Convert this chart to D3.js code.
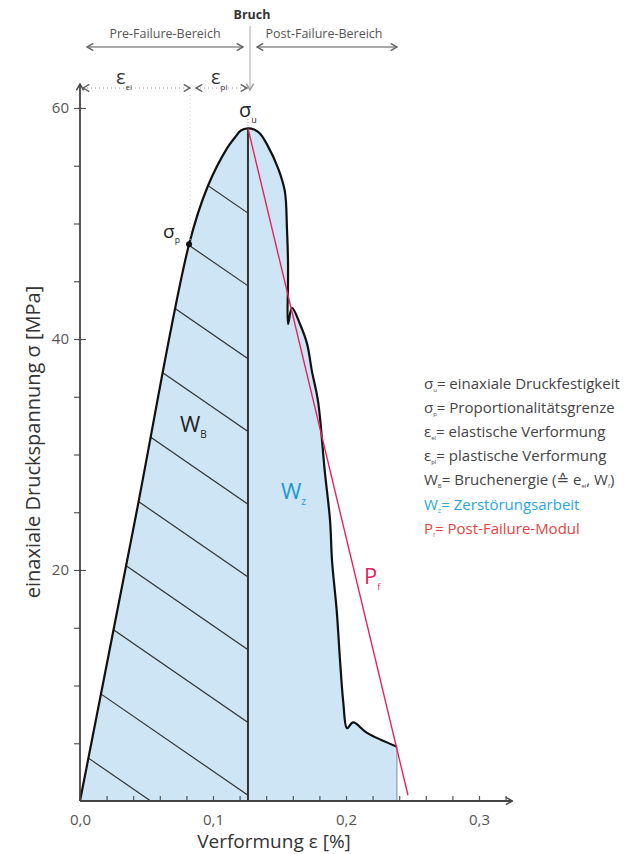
<!DOCTYPE html>
<html>
<head>
<meta charset="utf-8">
<script src="https://cdn.jsdelivr.net/npm/d3@7"></script>
<style>
    body { margin: 0; background: #fff; }
    svg text { font-family: "Open Sans", "DejaVu Sans", sans-serif; }
</style>
</head>
<body>
<div id="chart"></div>
<script>

// stress-strain curve (strain in %, stress in MPa)
let curveStrain = [0, 0.041, 0.082, 0.096, 0.1105, 0.1165, 0.121, 0.1263, 0.1308, 0.1353, 0.1406, 0.1489,
    0.154, 0.1556, 0.1564, 0.1564, 0.1564, 0.1594, 0.1654, 0.1707, 0.1744, 0.179, 0.184, 0.188, 0.1895,
    0.193, 0.1955, 0.198, 0.2008, 0.2053, 0.2158, 0.2383];
let curveStress = [0, 24.1, 48.2, 53.2, 56.5, 57.45, 58.05, 58.23, 58.14, 57.8, 56.85, 54.8,
    52.8, 49.6, 46.7, 44.8, 41.3, 42.7, 41.3, 39.6, 37.2, 34.6, 28.6, 24.3, 20.8,
    16.5, 12.2, 8.5, 6.3, 6.8, 5.9, 4.7];

let peakStrain = 0.1263;
let peakStress = 58.23;
let propStrain = 0.082;
let propStress = 48.2;

// post-failure modulus line
let pfStrain = [0.1263, 0.2466];
let pfStress = [58.23, 0.5];

// hatch lines in W_B: stress where each line meets the break line, and slope (MPa per %)
let hatchStress = [50.9, 44.6, 38.3, 32.0, 25.7, 19.4, 13.1, 6.8, 0.5, -5.8];
let hatchSlope = -79.3;

let xTicks = [0, 0.02, 0.04, 0.06, 0.08, 0.1, 0.12, 0.14, 0.16, 0.18, 0.2, 0.22, 0.24, 0.26, 0.28, 0.3, 0.32];
let xLabels = [0, 0.1, 0.2, 0.3];
let yTicks = [5, 10, 15, 20, 25, 30, 35, 40, 45, 50, 55, 60];
let yLabels = [20, 40, 60];

let legendSymbols = ["σ", "σ", "ε", "ε", "W", "W", "P"];
let legendSubs = ["u", "p", "el", "pl", "B", "Z", "f"];
let legendTexts = ["= einaxiale Druckfestigkeit", "= Proportionalitätsgrenze", "= elastische Verformung",
    "= plastische Verformung", "= Bruchenergie (≙ e", "= Zerstörungsarbeit", "= Post-Failure-Modul"];
let legendColors = ["#444", "#444", "#444", "#444", "#444", "#2aa6dc", "#e5443e"];

let width = 636, height = 854;

let svg = d3.select("#chart").append("svg")
    .attr("width", width)
    .attr("height", height);

let defs = svg.append("defs");

// open chevron arrow head
function addMarker(id, color) {
    defs.append("marker")
        .attr("id", id)
        .attr("viewBox", "0 0 10 10")
        .attr("refX", 9)
        .attr("refY", 5)
        .attr("markerWidth", 9)
        .attr("markerHeight", 9)
        .attr("markerUnits", "userSpaceOnUse")
        .attr("orient", "auto-start-reverse")
        .append("path")
        .attr("d", "M2,1 L9,5 L2,9")
        .attr("fill", "none")
        .attr("stroke", color)
        .attr("stroke-width", 1.6);
}
addMarker("arrow-dark", "#444");
addMarker("arrow-grey", "#666");
addMarker("arrow-light", "#999");

// scales
let x = d3.scaleLinear().domain([0, 0.1]).range([80, 213]);
let y = d3.scaleLinear().domain([0, 60]).range([801, 108]);

let pts = curveStrain.map((d, i) => [d, curveStress[i]]);

let line = d3.line()
    .x(d => x(d[0]))
    .y(d => y(d[1]))
    .curve(d3.curveCatmullRom.alpha(0.5));

let area = d3.area()
    .x(d => x(d[0]))
    .y0(y(0))
    .y1(d => y(d[1]))
    .curve(d3.curveCatmullRom.alpha(0.5));

// filled area under the whole curve
svg.append("path")
    .datum(pts)
    .attr("d", area)
    .attr("fill", "#cde5f5");

// clip for the pre-failure part (W_B)
let prePts = pts.filter(d => d[0] <= peakStrain);
defs.append("clipPath")
    .attr("id", "clip-pre")
    .append("path")
    .datum(prePts)
    .attr("d", area);

let hatch = svg.append("g").attr("clip-path", "url(#clip-pre)");
hatch.selectAll("line")
    .data(hatchStress)
    .enter().append("line")
    .attr("x1", x(0))
    .attr("y1", d => y(d + hatchSlope * (0 - peakStrain)))
    .attr("x2", x(peakStrain))
    .attr("y2", d => y(d))
    .attr("stroke", "#333")
    .attr("stroke-width", 1.2);

// break line
svg.append("line")
    .attr("x1", x(peakStrain)).attr("x2", x(peakStrain))
    .attr("y1", y(0)).attr("y2", y(peakStress))
    .attr("stroke", "#333")
    .attr("stroke-width", 2);

// right closing line of W_Z
let last = pts[pts.length - 1];
svg.append("line")
    .attr("x1", x(last[0])).attr("x2", x(last[0]))
    .attr("y1", y(0)).attr("y2", y(last[1]))
    .attr("stroke", "#888")
    .attr("stroke-width", 1);

// the curve
svg.append("path")
    .datum(pts)
    .attr("d", line)
    .attr("fill", "none")
    .attr("stroke", "#111")
    .attr("stroke-width", 2.2)
    .attr("stroke-linejoin", "round");

// post-failure modulus
svg.append("line")
    .attr("x1", x(pfStrain[0])).attr("y1", y(pfStress[0]))
    .attr("x2", x(pfStrain[1])).attr("y2", y(pfStress[1]))
    .attr("stroke", "#e3245e")
    .attr("stroke-width", 1.4);

// proportional limit dot
svg.append("circle")
    .attr("cx", x(propStrain))
    .attr("cy", y(propStress))
    .attr("r", 3)
    .attr("fill", "#111");

// axes
let xAxis = d3.axisBottom(x)
    .tickValues(xTicks)
    .tickSize(-5)
    .tickPadding(13)
    .tickFormat(d => xLabels.some(v => Math.abs(v - d) < 1e-9) ? d3.format(".1f")(d).replace(".", ",") : "");

let xAxisGroup = svg.append("g")
    .attr("class", "x-axis axis")
    .attr("transform", "translate(0," + y(0) + ")")
    .call(xAxis);

let yAxis = d3.axisLeft(y)
    .tickValues(yTicks)
    .tickSize(6)
    .tickPadding(5)
    .tickFormat(d => yLabels.includes(d) ? d : "");

let yAxisGroup = svg.append("g")
    .attr("class", "y-axis axis")
    .attr("transform", "translate(" + x(0) + ",0)")
    .call(yAxis);

yAxisGroup.selectAll(".tick line")
    .filter(d => yLabels.includes(d))
    .attr("x1", 6);

[xAxisGroup, yAxisGroup].forEach(g => {
    g.select(".domain").remove();
    g.selectAll(".tick line").attr("stroke", "#555").attr("stroke-width", 1.2);
    g.selectAll(".tick text")
        .attr("fill", "#555")
        .style("font-size", "15px")
        .style("font-family", "'Open Sans', sans-serif");
});

svg.append("line")
    .attr("x1", x(0)).attr("y1", y(0))
    .attr("x2", x(0.325)).attr("y2", y(0))
    .attr("stroke", "#444").attr("stroke-width", 1.8)
    .attr("marker-end", "url(#arrow-dark)");

svg.append("line")
    .attr("x1", x(0)).attr("y1", y(0))
    .attr("x2", x(0)).attr("y2", 84)
    .attr("stroke", "#444").attr("stroke-width", 1.8)
    .attr("marker-end", "url(#arrow-dark)");

// axis titles
svg.append("text")
    .attr("x", 274)
    .attr("y", 848)
    .attr("text-anchor", "middle")
    .attr("fill", "#333")
    .style("font-size", "19px")
    .text("Verformung ε [%]");

svg.append("text")
    .attr("transform", "translate(40,442) rotate(-90)")
    .attr("text-anchor", "middle")
    .attr("fill", "#333")
    .style("font-size", "20px")
    .text("einaxiale Druckspannung σ [MPa]");

// text with a subscript
function subText(parent, px, py, main, sub, size, color, subSize) {
    let t = parent.append("text")
        .attr("x", px)
        .attr("y", py)
        .attr("fill", color)
        .style("font-size", size + "px");
    t.append("tspan").text(main);
    t.append("tspan")
        .attr("dy", size * 0.28)
        .style("font-size", (subSize || size * 0.45) + "px")
        .text(sub);
    return t;
}

// labels in the plot
subText(svg, x(peakStrain) - 9, 117, "σ", "u", 20, "#222");
svg.append("line")
    .attr("x1", x(peakStrain)).attr("x2", x(peakStrain))
    .attr("y1", 119).attr("y2", 126)
    .attr("stroke", "#aaa").attr("stroke-dasharray", "1,2");
subText(svg, x(propStrain) - 26, 238, "σ", "p", 19, "#222");
subText(svg, 180, 432, "W", "B", 22, "#222", 10);
subText(svg, 281, 499, "W", "z", 22, "#1f98cf", 10);
subText(svg, 364, 584, "P", "f", 22, "#e3245e", 9);

// top annotations
svg.append("text")
    .attr("x", 252).attr("y", 19)
    .attr("text-anchor", "middle")
    .attr("fill", "#333")
    .style("font-size", "12.5px")
    .style("font-weight", "bold")
    .text("Bruch");

svg.append("line")
    .attr("x1", 250).attr("x2", 250)
    .attr("y1", 26).attr("y2", 90)
    .attr("stroke", "#aaa").attr("stroke-width", 1)
    .attr("marker-end", "url(#arrow-light)");

svg.append("text")
    .attr("x", 165).attr("y", 38)
    .attr("text-anchor", "middle")
    .attr("fill", "#555")
    .style("font-size", "12.5px")
    .text("Pre-Failure-Bereich");

svg.append("text")
    .attr("x", 324).attr("y", 38)
    .attr("text-anchor", "middle")
    .attr("fill", "#555")
    .style("font-size", "12.5px")
    .text("Post-Failure-Bereich");

[[87, 243], [257, 397]].forEach(r => {
    svg.append("line")
        .attr("x1", r[0]).attr("x2", r[1])
        .attr("y1", 47).attr("y2", 47)
        .attr("stroke", "#555").attr("stroke-width", 1.2)
        .attr("marker-start", "url(#arrow-grey)")
        .attr("marker-end", "url(#arrow-grey)");
});

// elastic / plastic strain spans
[[x(0) + 3, x(propStrain) + 1], [x(propStrain) + 7, x(peakStrain) - 1]].forEach(r => {
    svg.append("line")
        .attr("x1", r[0]).attr("x2", r[1])
        .attr("y1", 88).attr("y2", 88)
        .attr("stroke", "#999").attr("stroke-width", 1)
        .attr("stroke-dasharray", "1,3")
        .attr("marker-start", "url(#arrow-grey)")
        .attr("marker-end", "url(#arrow-grey)");
});
svg.append("line")
    .attr("x1", x(propStrain) + 1).attr("x2", x(propStrain) + 1)
    .attr("y1", 95).attr("y2", y(propStress) - 4)
    .attr("stroke", "#ccc").attr("stroke-width", 1)
    .attr("stroke-dasharray", "1,3");

subText(svg, 116, 84, "ε", "el", 20, "#333", 8);
subText(svg, 211, 84, "ε", "pl", 20, "#333", 8);

// legend
let legend = svg.append("g").attr("class", "legend");
legendSymbols.forEach((s, i) => {
    let t = legend.append("text")
        .attr("x", 424)
        .attr("y", 389 + i * 24.1)
        .attr("fill", legendColors[i])
        .style("font-size", "15px");
    t.append("tspan").text(s);
    t.append("tspan").attr("dy", 3).style("font-size", "6px").text(legendSubs[i]);
    t.append("tspan").attr("dy", -3).text(legendTexts[i]);
    if (i === 4) {
        t.append("tspan").attr("dy", 3).style("font-size", "6px").text("el");
        t.append("tspan").attr("dy", -3).text(", W");
        t.append("tspan").attr("dy", 3).style("font-size", "6px").text("f");
        t.append("tspan").attr("dy", -3).text(")");
    }
});

</script>
</body>
</html>
